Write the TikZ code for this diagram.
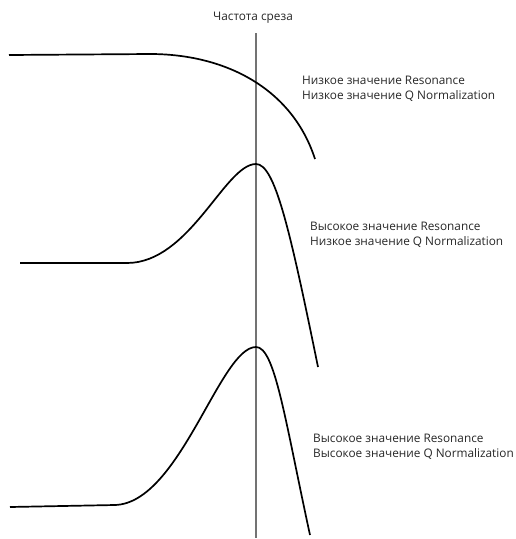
\documentclass[tikz,border=0pt]{standalone}
\usepackage{fontspec}
\setmainfont{Open Sans}
\begin{document}
\begin{tikzpicture}[x=1pt,y=-1pt,
    curve/.style={line width=1.7pt,line join=round},
    label/.style={anchor=west,align=left,text=black!85,inner sep=0pt,
        font=\fontsize{11.8}{15}\selectfont}]

    \useasboundingbox (0,0) rectangle (516,539);

    % cutoff line
    \coordinate (top) at (256,33);
    \coordinate (bottom) at (256,538);
    \draw[black!55,line width=1.2pt] (top) -- (bottom);
    \node[label,anchor=center] (cutoff) at (253,18) {Частота среза};

    % responses
    \draw[curve] (9,55) -- (150,54) .. controls (225,54) and (292,88) .. (315,159);
    \draw[curve] (20,263) -- (127,263) .. controls (190,263) and (225,164) .. (256,164)
        .. controls (275,164) and (290,230) .. (318,367);
    \draw[curve] (10,507) -- (115,505) .. controls (180,503) and (220,347) .. (256,347)
        .. controls (275,347) and (285,420) .. (310,535);

    \node[label] (lowlow) at (302,89) {Низкое значение Resonance\\Низкое значение Q Normalization};
    \node[label] (highlow) at (310,235) {Высокое значение Resonance\\Низкое значение Q Normalization};
    \node[label] (highhigh) at (313,447) {Высокое значение Resonance\\Высокое значение Q Normalization};
\end{tikzpicture}
\end{document}
